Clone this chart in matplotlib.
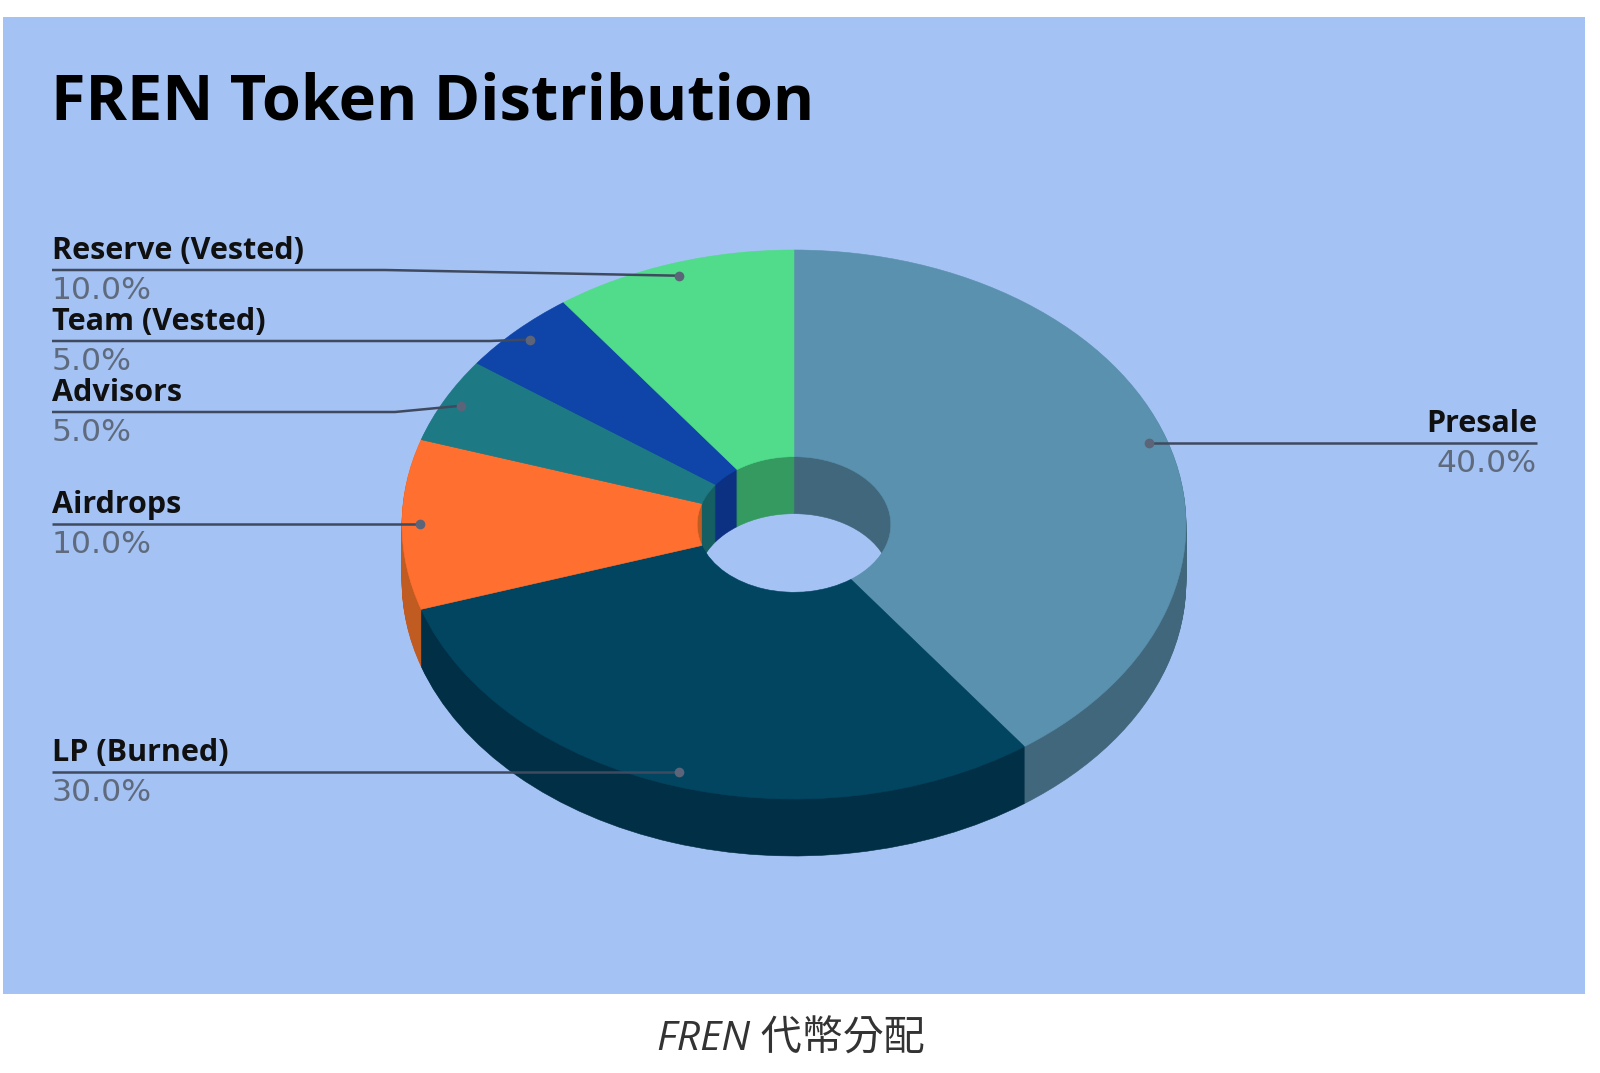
import numpy as np
import matplotlib
matplotlib.use("Agg")
import matplotlib.pyplot as plt
from matplotlib.patches import Wedge
from matplotlib.transforms import Affine2D

# ---- data ----
categories = ["Presale", "LP (Burned)", "Airdrops", "Advisors", "Team (Vested)", "Reserve (Vested)"]
values = [40.0, 30.0, 10.0, 5.0, 5.0, 10.0]
pct_labels = ["40.0%", "30.0%", "10.0%", "5.0%", "5.0%", "10.0%"]
top_colors = ["#5a91ae", "#014561", "#ff6f30", "#1d7a85", "#0f44a9", "#50dc8a"]
side_colors = ["#41677c", "#012f45", "#c05b22", "#155f63", "#0c3082", "#359a60"]
title = "FREN Token Distribution"
caption = "FREN 代幣分配"

W, H = 1600, 1073
BG = "#a4c2f4"
CX, CY, RX, RY = 794.0, 524.5, 392.0, 274.5
DEPTH = 57
HOLE = 0.247
DOT = 0.953

fig = plt.figure(figsize=(W / 100, H / 100), dpi=100, facecolor="white")

# background panel in pixel coordinates
px = fig.add_axes([0, 0, 1, 1], zorder=0)
px.set_xlim(0, W); px.set_ylim(H, 0); px.axis("off")
px.fill_between([3, 1585], 17, 994, color=BG, lw=0)

# extruded body: stacked layers from bottom to top
sides = fig.add_axes([0, 0, 1, 1], zorder=1)
sides.set_xlim(0, W); sides.set_ylim(H, 0); sides.axis("off"); sides.patch.set_alpha(0)
for dy in range(DEPTH, 0, -1):
    start = -90.0
    for v, c in zip(values, side_colors):
        end = start + v * 3.6
        sides.add_patch(Wedge((0, 0), 1.0, start, end, width=1 - HOLE, facecolor=c, edgecolor=c, lw=0.4,
                              transform=Affine2D().scale(RX, RY).translate(CX, CY + dy) + sides.transData))
        start = end

# top face: a real pie stretched to the ellipse
top = fig.add_axes([(CX - RX) / W, 1 - (CY + RY) / H, 2 * RX / W, 2 * RY / H], zorder=2)
top.patch.set_alpha(0)
wedges, _ = top.pie(values, colors=top_colors, startangle=90, counterclock=False, radius=1.0,
                    wedgeprops=dict(width=1 - HOLE, linewidth=0.4))
for w_, c_ in zip(wedges, top_colors):
    w_.set_edgecolor(c_)
top.set_aspect("auto")
top.set_xlim(-1, 1); top.set_ylim(-1, 1)

# labels and leader lines
overlay = fig.add_axes([0, 0, 1, 1], zorder=3)
overlay.set_xlim(0, W); overlay.set_ylim(H, 0); overlay.axis("off"); overlay.patch.set_alpha(0)

LINE = "#3f4a5e"
PCT = "#5f6b7d"

mid = np.cumsum(values) - np.array(values) / 2
theta = np.deg2rad(mid * 3.6)
dot_x = CX + DOT * RX * np.sin(theta)
dot_y = CY - DOT * RY * np.cos(theta)

label_x = [1537, 52, 52, 52, 52, 52]
line_y = [443, 772, 524, 412, 341, 270]
knee_x = [None, None, None, 395, 490, 385]
aligns = ["right", "left", "left", "left", "left", "left"]

for i in range(len(categories)):
    xs = [label_x[i]]
    ys = [line_y[i]]
    if knee_x[i] is not None:
        xs.append(knee_x[i]); ys.append(line_y[i])
    xs.append(dot_x[i]); ys.append(dot_y[i] if knee_x[i] is not None else line_y[i])
    overlay.plot(xs, ys, color=LINE, lw=1.8, solid_capstyle="butt")
    overlay.plot([xs[-1]], [ys[-1]], "o", color="#5b6478", ms=7, mew=0)
    overlay.text(label_x[i], line_y[i] - 11, categories[i], ha=aligns[i], va="baseline",
                 fontsize=22, fontweight="bold", family="Open Sans", color="#101010")
    overlay.text(label_x[i], line_y[i] + 29, pct_labels[i], ha=aligns[i], va="baseline",
                 fontsize=22.6, family="DejaVu Sans", color=PCT)

overlay.text(51, 119, title, ha="left", va="baseline", fontsize=45.4, fontweight="bold",
             family="Open Sans", color="black")
overlay.text(791, 1051, caption, ha="center", va="baseline", fontsize=29.5, style="italic",
             family=["Open Sans", "Noto Sans CJK TC"], color="#333333")

fig.savefig("out.png", dpi=100)
